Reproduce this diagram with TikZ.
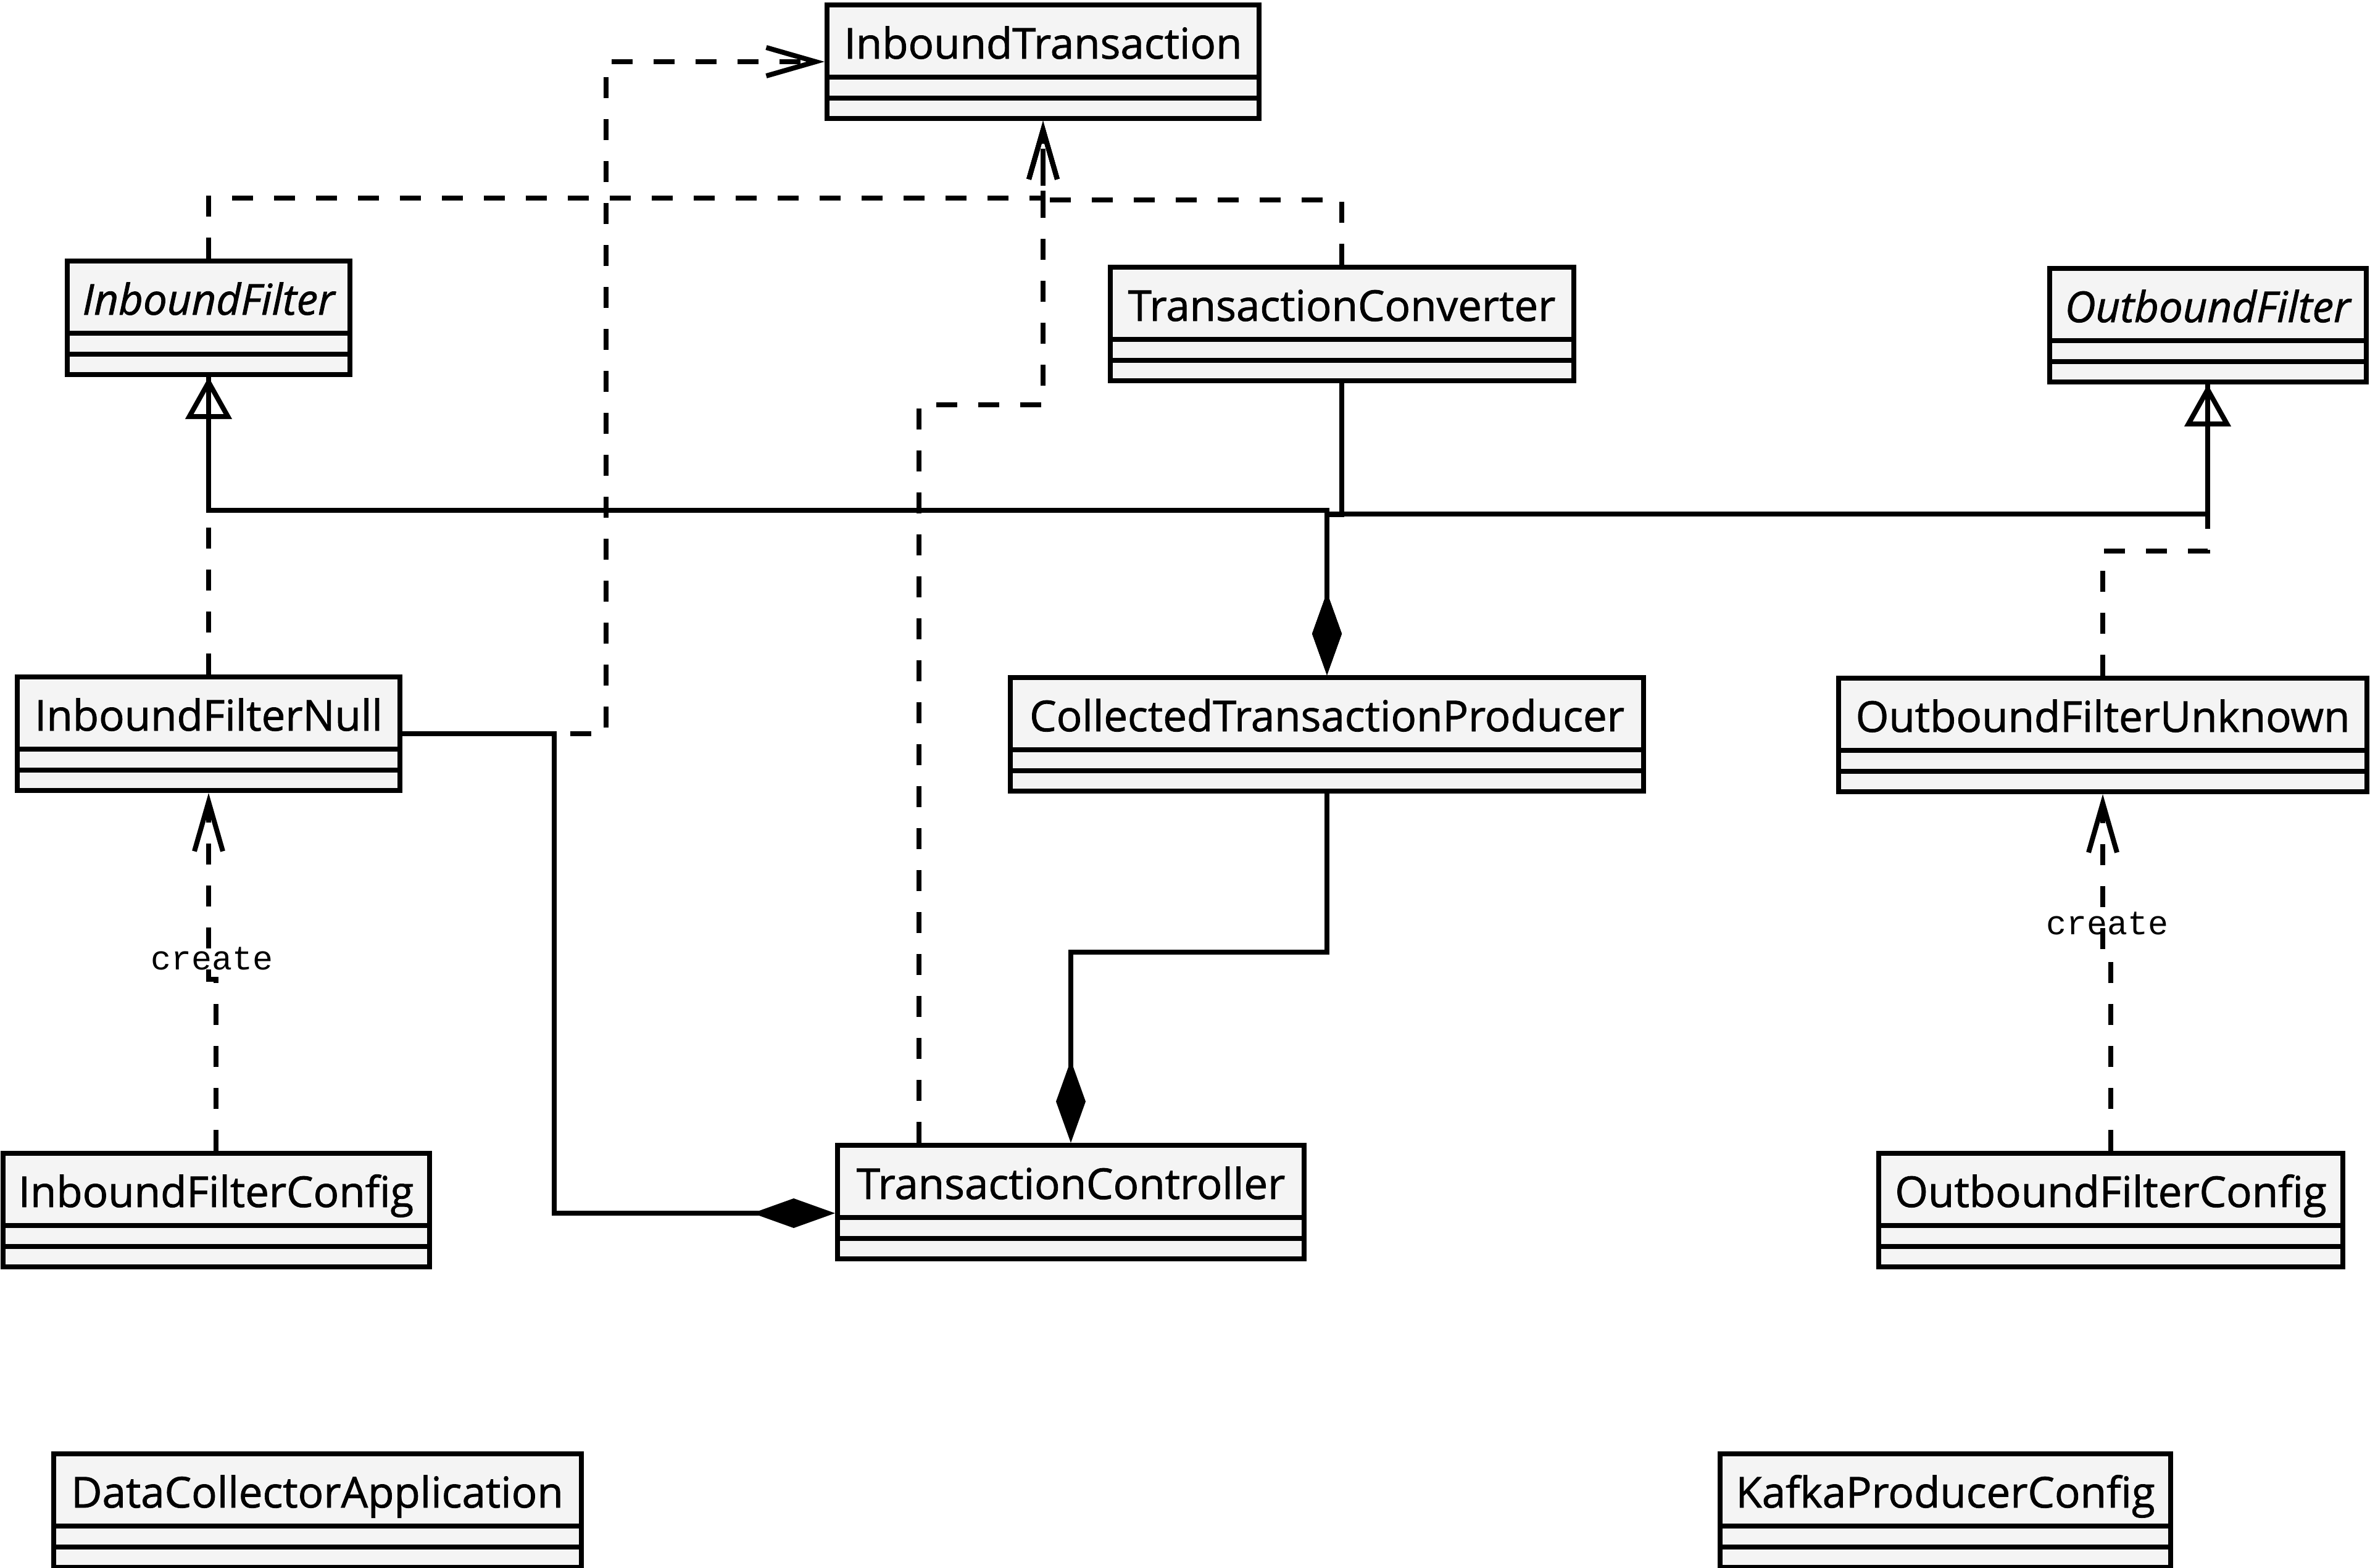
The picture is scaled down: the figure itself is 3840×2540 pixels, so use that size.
\documentclass[tikz,border=0pt]{standalone}
\usepackage{fontspec}
\setmainfont[FakeBold=1.2]{Open Sans}
\newfontfamily\monofont{Liberation Mono}
\usetikzlibrary{arrows.meta,calc}
\definecolor{boxfill}{HTML}{F4F4F4}
\begin{document}
\begin{tikzpicture}[x=0.5pt,y=-0.5pt,
  cls/.style={draw, fill=boxfill, line width=4pt, anchor=north, inner sep=0pt,
    text height=43.5pt, text depth=48.5pt, minimum width=#1,
    font=\fontsize{34.5}{40}\selectfont,
    path picture={
      \draw[line width=4pt] ([yshift=-58.5pt]path picture bounding box.north west) -- ([yshift=-58.5pt]path picture bounding box.north east);
      \draw[line width=4pt] ([yshift=-75.5pt]path picture bounding box.north west) -- ([yshift=-75.5pt]path picture bounding box.north east);}},
  italicname/.style={font=\fontsize{34.5}{40}\selectfont\itshape},
  conn/.style={line width=4pt},
  comp/.style={conn, -{Diamond[length=67pt,width=24pt]}},
  dep/.style={conn, dash pattern=on 17pt off 17pt, -{Straight Barb[length=40pt,width=23pt]}},
  real/.style={conn, dash pattern=on 17pt off 17pt, -{Triangle[open,length=34pt,width=37pt]}},
  lbl/.style={font=\monofont\fontsize{27.5}{30}\selectfont, anchor=base, inner sep=0pt}]
\useasboundingbox (0,0) rectangle (3840,2540);

% classes
\node[cls=350pt] (it) at (1690,4) {InboundTransaction};
\node[cls=229pt, italicname] (if) at (338,419) {InboundFilter};
\node[cls=375.5pt] (tconv) at (2174,429) {TransactionConverter};
\node[cls=256.5pt, italicname] (of) at (3577,431) {OutboundFilter};
\node[cls=310pt] (ifn) at (338,1093) {InboundFilterNull};
\node[cls=513pt] (ctp) at (2150,1094) {CollectedTransactionProducer};
\node[cls=428pt] (ofu) at (3407,1095) {OutboundFilterUnknown};
\node[cls=345.5pt] (ifc) at (350,1865) {InboundFilterConfig};
\node[cls=378pt] (tc) at (1735,1852) {TransactionController};
\node[cls=376pt] (ofc) at (3420,1865) {OutboundFilterConfig};
\node[cls=427.5pt] (dca) at (514,2352) {DataCollectorApplication};
\node[cls=365pt] (kpc) at (3152,2352) {KafkaProducerConfig};

% compositions
\draw[comp] (if.south) -- ++(0,216) -| (ctp.north);
\draw[comp] (tconv.south) -- ++(0,213) -| (ctp.north);
\draw[comp] (of.south) -- ++(0,210) -| (ctp.north);
\draw[comp] (ctp.south) -- ++(0,257) -| (tc.north);
\draw[comp] (ifn.east) -- ++(246,0) |- ($(tc.north west)+(0,114)$);

% realizations
\draw[real] (ifn.north) -- (if.south);
\draw[real] (ofu.north) -- ++(0,-202) -| (of.south);

% dependencies
\draw[dep] (ifn.east) -- ++(330,0) |- (it.west);
\draw[dep] ($(tc.north)+(-246,0)$) -- ++(0,-1196) -| (it.south);
\draw[dep] (if.north) -- ++(0,-98) -| (it.south);
\draw[dep] (tconv.north) -- ++(0,-105) -| (it.south);
\draw[dep] (ifc.north) -- ++(0,-278) -| (ifn.south);
\draw[dep] (ofc.north) -- ++(0,-325) -| (ofu.south);
\node[lbl] (c1) at (344,1571) {create};
\node[lbl] (c2) at (3414,1514) {create};
\end{tikzpicture}
\end{document}
